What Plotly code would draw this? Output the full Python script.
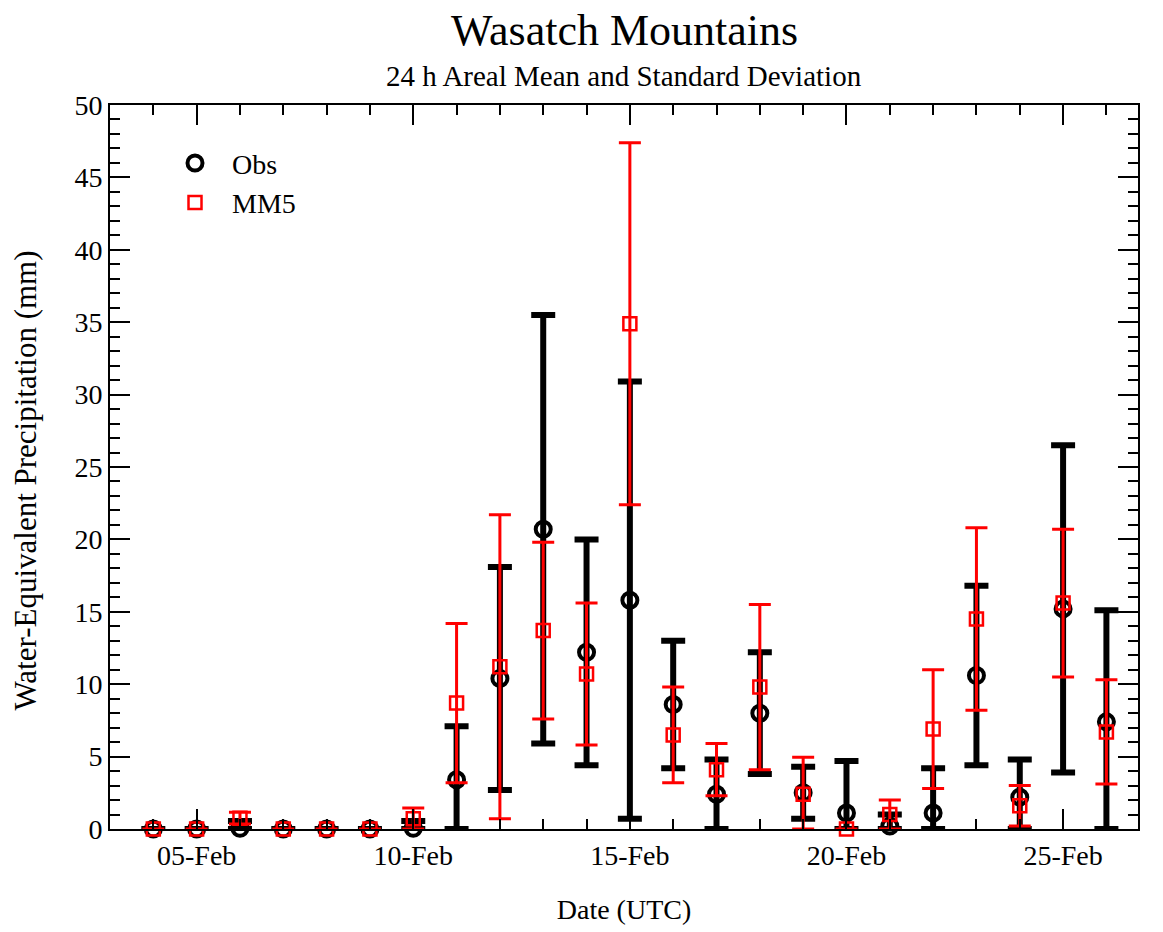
import plotly.graph_objects as go

dates = [f"2000-02-{d:02d}" for d in range(4, 27)]

obs_mean = [0.0, 0.0, 0.05, 0.0, 0.0, 0.0, 0.05, 3.4, 10.4, 20.7, 12.2, 15.8,
            8.6, 2.4, 8.0, 2.5, 1.1, 0.2, 1.1, 10.6, 2.2, 15.2, 7.4]
obs_std = [0.0, 0.0, 0.5, 0.0, 0.0, 0.0, 0.5, 3.7, 7.7, 14.8, 7.8, 15.1,
           4.4, 2.4, 4.2, 1.8, 3.6, 0.8, 3.1, 6.2, 2.6, 11.3, 7.7]
mm5_mean = [0.0, 0.0, 0.75, 0.0, 0.0, 0.0, 0.7, 8.7, 11.2, 13.7, 10.7, 34.9,
            6.5, 4.1, 9.8, 2.4, 0.0, 1.0, 6.9, 14.5, 1.6, 15.6, 6.7]
mm5_std = [0.0, 0.0, 0.4, 0.0, 0.0, 0.0, 0.75, 5.5, 10.5, 6.1, 4.9, 12.5,
           3.3, 1.8, 5.7, 2.55, 0.0, 1.0, 4.1, 6.3, 1.4, 5.1, 3.6]

FONT = "'Liberation Serif', 'Times New Roman', Times, serif"

def minus(mean, std):
    return [min(m, s) for m, s in zip(mean, std)]

fig = go.Figure()
fig.add_trace(go.Scatter(
    x=dates, y=obs_mean, mode="markers", name="Obs", cliponaxis=False,
    marker=dict(symbol="circle-open", size=15, color="black",
                line=dict(width=4, color="black")),
    error_y=dict(type="data", symmetric=False, array=obs_std,
                 arrayminus=minus(obs_mean, obs_std),
                 color="black", thickness=6, width=12),
))
fig.add_trace(go.Scatter(
    x=dates, y=mm5_mean, mode="markers", name="MM5", cliponaxis=False,
    marker=dict(symbol="square-open", size=13, color="red",
                line=dict(width=2.5, color="red")),
    error_y=dict(type="data", symmetric=False, array=mm5_std,
                 arrayminus=minus(mm5_mean, mm5_std),
                 color="red", thickness=3, width=11),
))

axis_common = dict(
    showline=True, linecolor="black", linewidth=2, mirror="allticks",
    ticks="inside", ticklen=20, tickwidth=2, tickcolor="black",
    showgrid=False, zeroline=False,
    tickfont=dict(family=FONT, size=28, color="black"),
)

fig.update_layout(
    width=1163, height=932,
    margin=dict(l=110, r=25, t=105, b=100),
    paper_bgcolor="white", plot_bgcolor="white",
    font=dict(family=FONT, size=28, color="black"),
    showlegend=True,
    legend=dict(x=0.0467, y=0.954, xanchor="left", yanchor="top",
                bgcolor="rgba(0,0,0,0)", font=dict(family=FONT, size=28),
                itemwidth=64, tracegroupgap=0),
    xaxis=dict(
        **axis_common,
        type="date",
        range=["2000-02-03", "2000-02-26 17:30"],
        tick0="2000-02-05", dtick=5 * 86400000, tickformat="%d-%b",
        minor=dict(dtick=86400000, ticklen=10, tickwidth=2, tickcolor="black",
                   ticks="inside", showgrid=False),
        title=dict(text="Date (UTC)", font=dict(family=FONT, size=28), standoff=30),
    ),
    yaxis=dict(
        **axis_common,
        range=[0, 50], tick0=0, dtick=5,
        minor=dict(dtick=1, ticklen=10, tickwidth=2, tickcolor="black",
                   ticks="inside", showgrid=False),
    ),
    annotations=[
        dict(text="Wasatch Mountains", xref="paper", yref="paper",
             x=0.5, y=(832 - 30) / 727, xanchor="center", yanchor="middle",
             showarrow=False, font=dict(family=FONT, size=44, color="black")),
        dict(text="24 h Areal Mean and Standard Deviation", xref="paper", yref="paper",
             x=0.5, y=(832 - 76) / 727, xanchor="center", yanchor="middle",
             showarrow=False, font=dict(family=FONT, size=29, color="black")),
        dict(text="Water-Equivalent Precipitation (mm)", xref="paper", yref="paper",
             x=(25 - 110) / 1028, y=(832 - 482) / 727, xanchor="center", yanchor="middle",
             textangle=-90, showarrow=False,
             font=dict(family=FONT, size=31, color="black")),
    ],
)

fig.write_html("out.html")
